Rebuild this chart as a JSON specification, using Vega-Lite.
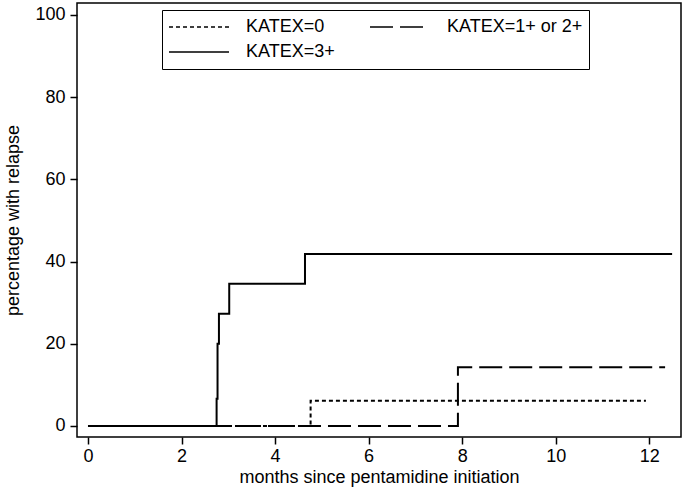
{
  "$schema": "https://vega.github.io/schema/vega-lite/v6.json",
  "width": 604,
  "height": 434,
  "autosize": "none",
  "padding": {"left": 77, "top": 3, "right": 5, "bottom": 52},
  "background": "white",
  "config": {
    "font": "Liberation Sans",
    "view": {"stroke": "black", "strokeWidth": 1.5},
    "axis": {
      "domain": false,
      "grid": false,
      "ticks": true,
      "tickColor": "black",
      "tickWidth": 1.5,
      "tickSize": 7,
      "labelColor": "black",
      "labelFontSize": 18,
      "titleFontSize": 18,
      "titleFontWeight": "normal",
      "titleColor": "black"
    }
  },
  "data": {
    "values": [
      {"group": "KATEX=0", "month": 0, "pct": 0},
      {"group": "KATEX=0", "month": 4.76, "pct": 6.1},
      {"group": "KATEX=0", "month": 11.93, "pct": 6.1},
      {"group": "KATEX=1+ or 2+", "month": 0, "pct": 0},
      {"group": "KATEX=1+ or 2+", "month": 7.91, "pct": 14.3},
      {"group": "KATEX=1+ or 2+", "month": 12.34, "pct": 14.3},
      {"group": "KATEX=3+", "month": 0, "pct": 0},
      {"group": "KATEX=3+", "month": 2.75, "pct": 6.6},
      {"group": "KATEX=3+", "month": 2.77, "pct": 20},
      {"group": "KATEX=3+", "month": 2.8, "pct": 27.3},
      {"group": "KATEX=3+", "month": 3.02, "pct": 34.6},
      {"group": "KATEX=3+", "month": 4.64, "pct": 41.8},
      {"group": "KATEX=3+", "month": 12.49, "pct": 41.8}
    ]
  },
  "mark": {"type": "line", "interpolate": "step-after", "color": "black", "strokeWidth": 2},
  "encoding": {
    "x": {
      "field": "month",
      "type": "quantitative",
      "title": "months since pentamidine initiation",
      "scale": {"domain": [-0.235, 12.68], "nice": false, "zero": false},
      "axis": {"values": [0, 2, 4, 6, 8, 10, 12], "labelPadding": 3, "titlePadding": 3}
    },
    "y": {
      "field": "pct",
      "type": "quantitative",
      "title": "percentage with relapse",
      "scale": {"domain": [-2.7, 102.9], "nice": false, "zero": false},
      "axis": {"values": [0, 20, 40, 60, 80, 100], "labelPadding": 5, "titlePadding": 12}
    },
    "strokeDash": {
      "field": "group",
      "type": "nominal",
      "scale": {
        "domain": ["KATEX=0", "KATEX=1+ or 2+", "KATEX=3+"],
        "range": [[4, 3], [23, 7], [1, 0]]
      },
      "legend": {
        "title": null,
        "orient": "none",
        "legendX": 85,
        "legendY": 7,
        "direction": "horizontal",
        "columns": 2,
        "columnPadding": 34,
        "rowPadding": 3,
        "clipHeight": 22,
        "symbolType": "stroke",
        "symbolSize": 3600,
        "symbolStrokeWidth": 1.5,
        "symbolStrokeColor": "black",
        "labelFontSize": 18,
        "labelColor": "black",
        "labelOffset": 16,
        "strokeColor": "black",
        "padding": 6
      }
    }
  }
}
